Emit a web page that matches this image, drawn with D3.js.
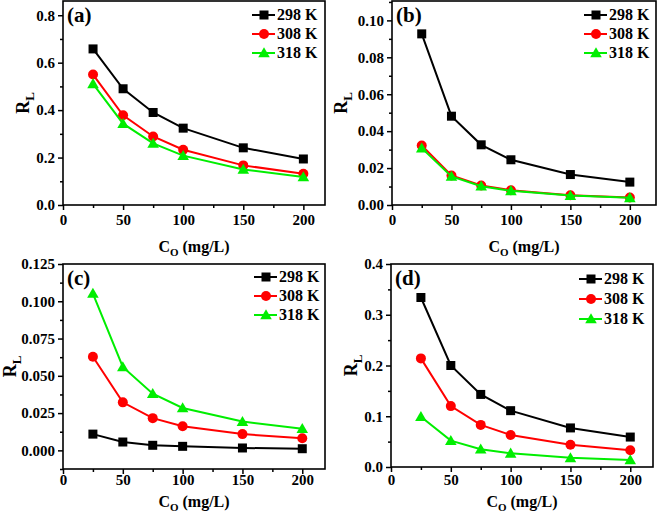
<!DOCTYPE html>
<html><head><meta charset="utf-8">
<script src="https://cdn.jsdelivr.net/npm/d3@7"></script>
<style>
body{margin:0;background:#fff;}
text{font-family:"Liberation Serif","Times New Roman",serif;font-weight:bold;}
</style></head>
<body><svg id="c" width="658" height="517"></svg>
<script>
const concentrations = [25, 50, 75, 100, 150, 200];
const seriesNames = ["298 K", "308 K", "318 K"];
const seriesColors = ["#000000", "#ff0000", "#00ee00"];
const xTicks = [0, 50, 100, 150, 200];
const xMinorTicks = [25, 75, 125, 175];

const a298 = [0.658, 0.490, 0.390, 0.324, 0.241, 0.194];
const a308 = [0.550, 0.378, 0.289, 0.233, 0.167, 0.132];
const a318 = [0.511, 0.343, 0.260, 0.208, 0.150, 0.118];

const b298 = [0.0927, 0.0481, 0.0326, 0.0245, 0.0165, 0.0124];
const b308 = [0.0322, 0.0160, 0.0106, 0.0080, 0.0053, 0.0041];
const b318 = [0.0308, 0.0155, 0.0102, 0.0077, 0.0051, 0.0039];

const c298 = [0.0109, 0.0056, 0.0034, 0.0027, 0.0016, 0.0011];
const c308 = [0.0628, 0.0322, 0.0216, 0.0162, 0.0109, 0.0081];
const c318 = [0.1052, 0.0560, 0.0380, 0.0284, 0.0193, 0.0145];

const d298 = [0.334, 0.200, 0.143, 0.111, 0.077, 0.059];
const d308 = [0.214, 0.120, 0.083, 0.063, 0.044, 0.033];
const d318 = [0.099, 0.052, 0.035, 0.027, 0.018, 0.014];

const aYTicks = [0, 0.2, 0.4, 0.6, 0.8];
const bYTicks = [0, 0.02, 0.04, 0.06, 0.08, 0.10];
const cYTicks = [0, 0.025, 0.05, 0.075, 0.1, 0.125];
const dYTicks = [0, 0.1, 0.2, 0.3, 0.4];

const panels = [
  {label:"(a)", box:{l:63, r:325, t:1, b:205}, xMax:218, yDom:[0,0.86], yTicks:aYTicks, yMinorStep:0.1, fmt:d3.format(".1f"), data:[a298,a308,a318], legX:252, legY:[15,34,53], labelX:29, xPad:4, titleY:252},
  {label:"(b)", box:{l:392, r:656, t:1, b:205}, xMax:222, yDom:[0,0.1105], yTicks:bYTicks, yMinorStep:0.01, fmt:d3.format(".2f"), data:[b298,b308,b318], legX:584, legY:[15,34,53], labelX:347, xPad:4, titleY:252},
  {label:"(c)", box:{l:63, r:325, t:264, b:469}, xMax:219, yDom:[-0.0125,0.125], yTicks:cYTicks, yMinorStep:0.0125, fmt:d3.format(".3f"), data:[c298,c308,c318], legX:254, legY:[277,296,315], labelX:16, xPad:0.5, titleY:507},
  {label:"(d)", box:{l:391, r:653, t:264, b:467}, xMax:219, yDom:[0,0.4], yTicks:dYTicks, yMinorStep:0.05, fmt:d3.format(".1f"), data:[d298,d308,d318], legX:579, legY:[279,299,319], labelX:357, xPad:2.3, titleY:507}
];

const svg = d3.select("#c");
const FONT = '"Liberation Serif","Times New Roman",serif';

function marker(g, i, x, y, color){
  if(i===0){
    g.append("rect").attr("x",x-4.5).attr("y",y-4.5).attr("width",9).attr("height",9).attr("fill",color);
  } else if(i===1){
    g.append("circle").attr("cx",x).attr("cy",y).attr("r",5).attr("fill",color);
  } else {
    g.append("path").attr("d",d3.symbol().type(d3.symbolTriangle).size(58)()).attr("transform",`translate(${x},${y+1})`).attr("fill",color);
  }
}

panels.forEach(p=>{
  const B = p.box;
  const x = d3.scaleLinear().domain([0,p.xMax]).range([B.l,B.r]);
  const y = d3.scaleLinear().domain(p.yDom).range([B.b,B.t]);
  const g = svg.append("g");

  g.append("rect").attr("x",B.l).attr("y",B.t).attr("width",B.r-B.l).attr("height",B.b-B.t)
    .attr("fill","none").attr("stroke","#000").attr("stroke-width",1.6);

  const yMinor = d3.range(p.yDom[0], p.yDom[1]+1e-9, p.yMinorStep).filter(v=>!p.yTicks.some(t=>Math.abs(t-v)<1e-9));
  const ax = g.append("g").attr("transform",`translate(${B.l},0)`)
    .call(d3.axisLeft(y).tickValues(yMinor).tickSize(3).tickFormat(""));
  ax.select(".domain").remove();
  const axM = g.append("g").attr("transform",`translate(${B.l},0)`)
    .call(d3.axisLeft(y).tickValues(p.yTicks).tickSize(5).tickPadding(3).tickFormat(p.fmt));
  axM.select(".domain").remove();
  const bx = g.append("g").attr("transform",`translate(0,${B.b})`)
    .call(d3.axisBottom(x).tickValues(xMinorTicks).tickSize(3).tickFormat(""));
  bx.select(".domain").remove();
  const bxM = g.append("g").attr("transform",`translate(0,${B.b})`)
    .call(d3.axisBottom(x).tickValues(xTicks).tickSize(5).tickPadding(p.xPad).tickFormat(d3.format("d")));
  bxM.select(".domain").remove();
  g.selectAll("g").attr("font-family",FONT);
  g.selectAll(".tick line").attr("stroke","#000").attr("stroke-width",1.5);
  g.selectAll(".tick text").attr("font-size",15).attr("fill","#000")
    .style("font-family",FONT).style("font-weight","bold");

  const xt = g.append("text").attr("x",(B.l+B.r)/2).attr("y",p.titleY).attr("text-anchor","middle").attr("font-size",16);
  xt.append("tspan").text("C");
  xt.append("tspan").attr("font-size",11).attr("dy",4).text("O");
  xt.append("tspan").attr("dy",-4).text(" (mg/L)");
  const yt = g.append("text").attr("transform",`translate(${p.labelX},${(B.t+B.b)/2}) rotate(-90)`).attr("text-anchor","middle").attr("font-size",18);
  yt.append("tspan").text("R");
  yt.append("tspan").attr("font-size",13).attr("dy",5).text("L");

  g.append("text").attr("x",B.l+4).attr("y",B.t+21).attr("font-size",21).text(p.label);

  const line = d3.line().x((d,i)=>x(concentrations[i])).y(d=>y(d));
  p.data.forEach((vals,si)=>{
    const col = seriesColors[si];
    g.append("path").datum(vals).attr("d",line).attr("fill","none").attr("stroke",col).attr("stroke-width",2);
    vals.forEach((v,i)=>marker(g,si,x(concentrations[i]),y(v),col));
  });
  seriesNames.forEach((n,si)=>{
    const ly = p.legY[si];
    const col = seriesColors[si];
    g.append("line").attr("x1",p.legX).attr("x2",p.legX+23).attr("y1",ly).attr("y2",ly).attr("stroke",col).attr("stroke-width",2);
    marker(g,si,p.legX+12,ly,col);
    g.append("text").attr("x",p.legX+25).attr("y",ly+5).attr("font-size",16).text(n);
  });
});
</script></body></html>
